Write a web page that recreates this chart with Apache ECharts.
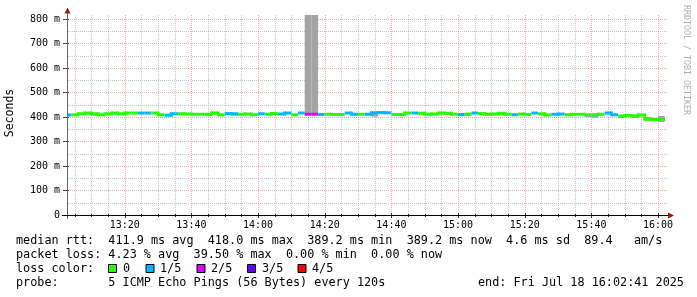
<!DOCTYPE html>
<html><head><meta charset="utf-8">
<script src="https://cdn.jsdelivr.net/npm/echarts@6/dist/echarts.min.js"></script>
<style>html,body{margin:0;padding:0;background:#fff}#c{width:697px;height:297px}</style>
</head><body><div id="c"></div>
<script>
// ---- time frame (minutes since midnight) ----
const xStart = 13 * 60 + 2 + 41 / 60;   // 13:02:41
const xEnd = 16 * 60 + 2 + 41 / 60;     // 16:02:41
const firstStep = 13 * 60 + 2;          // first rrd step start 13:02
const stepMin = 2;                      // 120 s steps
const yMax = 816;

// ---- median rtt (ms) per step ----
const median = [
  408, 409, 413, 416, 413, 409, 413, 416, 413, 416,
  416, 416, 416, 416, 409, 407, 413, 413, 412, 411,
  411, 411, 416, 409, 414, 413, 411, 412, 409, 413,
  411, 414, 412, 416, 409, 416, 411, 411, 410, 411,
  410, 410, 416, 411, 411, 411, 417, 418, 417, 410,
  410, 416, 416, 415, 411, 412, 416, 415, 411, 410,
  412, 416, 414, 411, 412, 415, 411, 409, 412, 410,
  416, 413, 408, 411, 412, 409, 411, 411, 409, 409,
  411, 416, 409, 404, 406, 402, 408, 391, 390, 389.2
];
// ---- loss level per step (index into lossColors) ----
const loss = [
  1, 0, 0, 0, 0, 0, 0, 0, 0, 0,
  0, 1, 1, 0, 0, 1, 1, 0, 0, 0,
  0, 0, 0, 0, 1, 1, 0, 0, 0, 1,
  0, 0, 1, 1, 0, 1, 2, 2, 1, 0,
  0, 0, 1, 1, 0, 1, 1, 1, 1, 0,
  0, 0, 1, 0, 0, 0, 0, 0, 0, 1,
  0, 1, 0, 0, 0, 0, 0, 1, 0, 0,
  1, 0, 0, 1, 1, 0, 0, 0, 0, 0,
  0, 1, 1, 0, 0, 0, 0, 0, 0, 0
];
// ---- smoke (ping spread): [step index, low ms, high ms] ----
const smoke = [
  [4, 405, 413], [21, 404, 411], [25, 405, 413], [36, 411, 816], [37, 411, 816],
  [46, 401, 417], [60, 404, 412], [65, 407, 415], [78, 400, 409], [79, 397, 409],
  [83, 396, 404], [85, 402, 411], [87, 384, 400], [88, 384, 390], [89, 380, 404]
];

const lossColors = ['#26ff00', '#00b8ff', '#dd00ff', '#6200ff', '#ff0000'];
const lossLabels = ['0', '1/5', '2/5', '3/5', '4/5'];

// ---- grid / ticks ----
const yMajor = [100, 200, 300, 400, 500, 600, 700, 800];
const yMinor = [50, 150, 250, 350, 450, 550, 650, 750];
const xMajor = [800, 820, 840, 860, 880, 900, 920, 940, 960];
const xMajorLabels = ['13:20', '13:40', '14:00', '14:20', '14:40', '15:00', '15:20', '15:40', '16:00'];
const xMinor = [785, 790, 795, 805, 810, 815, 825, 830, 835, 845, 850, 855, 865, 870, 875,
                885, 890, 895, 905, 910, 915, 925, 930, 935, 945, 950, 955];

const legendLines = [
  'median rtt:  411.9 ms avg  418.0 ms max  389.2 ms min  389.2 ms now  4.6 ms sd  89.4   am/s',
  'packet loss: 4.23 % avg  39.50 % max  0.00 % min  0.00 % now',
  'loss color:',
  'probe:       5 ICMP Echo Pings (56 Bytes) every 120s'
];
const endText = 'end: Fri Jul 18 16:02:41 2025';

const MONO = '"DejaVu Sans Mono", monospace';
const chart = echarts.init(document.getElementById('c'), null, { renderer: 'canvas' });

function csRect(cs) { return { x: cs.x, y: cs.y, width: cs.width, height: cs.height }; }

const gridData = [];
yMinor.forEach(v => gridData.push([0, v]));
yMajor.forEach(v => gridData.push([1, v]));
xMinor.forEach(v => gridData.push([2, v]));
xMajor.forEach(v => gridData.push([3, v]));

const medianData = median.map((v, i) => [firstStep + i * stepMin, v, loss[i],
  i > 0 ? median[i - 1] : v, i > 0 ? loss[i - 1] : -1]);
const smokeData = smoke.map(s => [firstStep + s[0] * stepMin, s[1], s[2]]);
const labelData = xMajor.map((v, i) => [v, i]);

const graphics = [];
// axis extensions and arrows
graphics.push({ type: 'line', z: 50, shape: { x1: 67.5, y1: 10, x2: 67.5, y2: 219 }, style: { stroke: '#666', lineWidth: 1 } });
graphics.push({ type: 'line', z: 50, shape: { x1: 62, y1: 215.5, x2: 669, y2: 215.5 }, style: { stroke: '#000', lineWidth: 1 } });
graphics.push({ type: 'polygon', z: 51, shape: { points: [[64.5, 13.5], [67.5, 7.5], [70.5, 13.5]] }, style: { fill: '#a81010' } });
graphics.push({ type: 'polygon', z: 51, shape: { points: [[668, 212.5], [674, 215.5], [668, 218.5]] }, style: { fill: '#a81010' } });
// y axis title
graphics.push({ type: 'text', x: 10, y: 113, rotation: Math.PI / 2,
  style: { text: 'Seconds', font: '11.5px ' + MONO, fill: '#000', align: 'center', verticalAlign: 'middle' } });
// watermark
graphics.push({ type: 'text', x: 686, y: 60, rotation: -Math.PI / 2,
  style: { text: 'RRDTOOL / TOBI OETIKER', font: '8.3px ' + MONO, fill: '#b0b0b0', align: 'center', verticalAlign: 'middle' } });
// legend text lines
const lineY = [241, 255, 269, 283];
legendLines.forEach((t, i) => graphics.push({ type: 'text', x: 16, y: lineY[i],
  style: { text: t, font: '11.8px ' + MONO, fill: '#000', align: 'left', verticalAlign: 'middle' } }));
graphics.push({ type: 'text', x: 478, y: 283,
  style: { text: endText, font: '11.8px ' + MONO, fill: '#000', align: 'left', verticalAlign: 'middle' } });
// loss color boxes
const boxX = [108.5, 146, 197, 247.5, 298];
const boxTextX = [123, 160, 211, 262, 312];
lossColors.forEach((c, i) => {
  graphics.push({ type: 'rect', shape: { x: boxX[i], y: 264.5, width: 8, height: 8 },
    style: { fill: c, stroke: '#000', lineWidth: 1 } });
  graphics.push({ type: 'text', x: boxTextX[i], y: 269,
    style: { text: lossLabels[i], font: '11.8px ' + MONO, fill: '#000', align: 'left', verticalAlign: 'middle' } });
});

const option = {
  animation: false,
  backgroundColor: '#fff',
  grid: { left: 67, right: 30, top: 15, bottom: 82, containLabel: false },
  xAxis: {
    type: 'value', min: xStart, max: xEnd,
    axisLine: { show: true, lineStyle: { color: '#000', width: 1 } },
    axisTick: { show: false }, axisLabel: { show: false }, splitLine: { show: false }
  },
  yAxis: {
    type: 'value', min: 0, max: yMax, interval: 100,
    axisLine: { show: true, lineStyle: { color: '#666', width: 1 } },
    axisTick: { show: false },
    splitLine: { show: false },
    axisLabel: {
      show: true, showMaxLabel: false, margin: 7,
      fontFamily: MONO, fontSize: 10, color: '#000',
      formatter: v => (v === 0 ? '0' : v + ' m')
    }
  },
  graphic: graphics,
  series: [
    {
      type: 'custom', name: 'grid', z: 1, silent: true, data: gridData,
      renderItem: (params, api) => {
        const kind = api.value(0), v = api.value(1), cs = params.coordSys;
        const major = kind === 1 || kind === 3;
        const stroke = major ? 'rgba(222,48,48,0.42)' : 'rgba(128,128,128,0.45)';
        const children = [];
        if (kind < 2) {
          const y = Math.round(api.coord([xStart, v])[1]) + 0.5;
          children.push({ type: 'line', shape: { x1: cs.x + 1, y1: y, x2: cs.x + cs.width, y2: y },
            style: { stroke, lineWidth: 1, lineDash: [1, 1] } });
          if (major) children.push({ type: 'line', shape: { x1: cs.x - 4, y1: y, x2: cs.x + 2, y2: y },
            style: { stroke: '#444', lineWidth: 1 } });
        } else {
          const x = Math.round(api.coord([v, 0])[0]) + 0.5;
          const yb = cs.y + cs.height;
          children.push({ type: 'line', shape: { x1: x, y1: cs.y, x2: x, y2: yb - 1 },
            style: { stroke, lineWidth: 1, lineDash: [1, 1] } });
          children.push({ type: 'line', shape: { x1: x, y1: yb - (major ? 2 : 1), x2: x, y2: yb + (major ? 3 : 2) },
            style: { stroke: '#333', lineWidth: 1 } });
        }
        return { type: 'group', children };
      }
    },
    {
      type: 'custom', name: 'smoke', z: 2, silent: true, data: smokeData,
      renderItem: (params, api) => {
        const t = api.value(0), lo = api.value(1), hi = api.value(2);
        const a = api.coord([t, hi]), b = api.coord([t + stepMin, lo]);
        const shape = echarts.graphic.clipRectByRect(
          { x: a[0], y: a[1], width: b[0] - a[0], height: b[1] - a[1] }, csRect(params.coordSys));
        if (!shape) return;
        return { type: 'rect', shape, style: { fill: '#a4a4a4' } };
      }
    },
    {
      type: 'custom', name: 'median rtt', z: 3, silent: true, data: medianData,
      renderItem: (params, api) => {
        const t = api.value(0), v = api.value(1), l = api.value(2), pv = api.value(3), pl = api.value(4);
        const p0 = api.coord([t, v]), p1 = api.coord([t + stepMin, v]);
        const cr = csRect(params.coordSys);
        const children = [];
        const seg = echarts.graphic.clipRectByRect({ x: p0[0], y: p0[1] - 1.5, width: p1[0] - p0[0], height: 3 }, cr);
        if (seg) children.push({ type: 'rect', shape: seg, style: { fill: lossColors[l] } });
        if (pl === l && pv !== v) {
          const pp = api.coord([t, pv]);
          const top = Math.min(pp[1], p0[1]) - 1.5, bot = Math.max(pp[1], p0[1]) + 1.5;
          const con = echarts.graphic.clipRectByRect({ x: p0[0] - 1.5, y: top, width: 3, height: bot - top }, cr);
          if (con) children.push({ type: 'rect', shape: con, style: { fill: lossColors[l] } });
        }
        return { type: 'group', children };
      }
    },
    {
      type: 'custom', name: 'xlabels', z: 4, silent: true, data: labelData,
      renderItem: (params, api) => {
        const t = api.value(0), i = api.value(1);
        const p = api.coord([t, 0]);
        return { type: 'text', x: p[0], y: p[1] + 10,
          style: { text: xMajorLabels[i], font: '10px ' + MONO, fill: '#000', align: 'center', verticalAlign: 'middle' } };
      }
    }
  ]
};
chart.setOption(option);
</script>
</body></html>
